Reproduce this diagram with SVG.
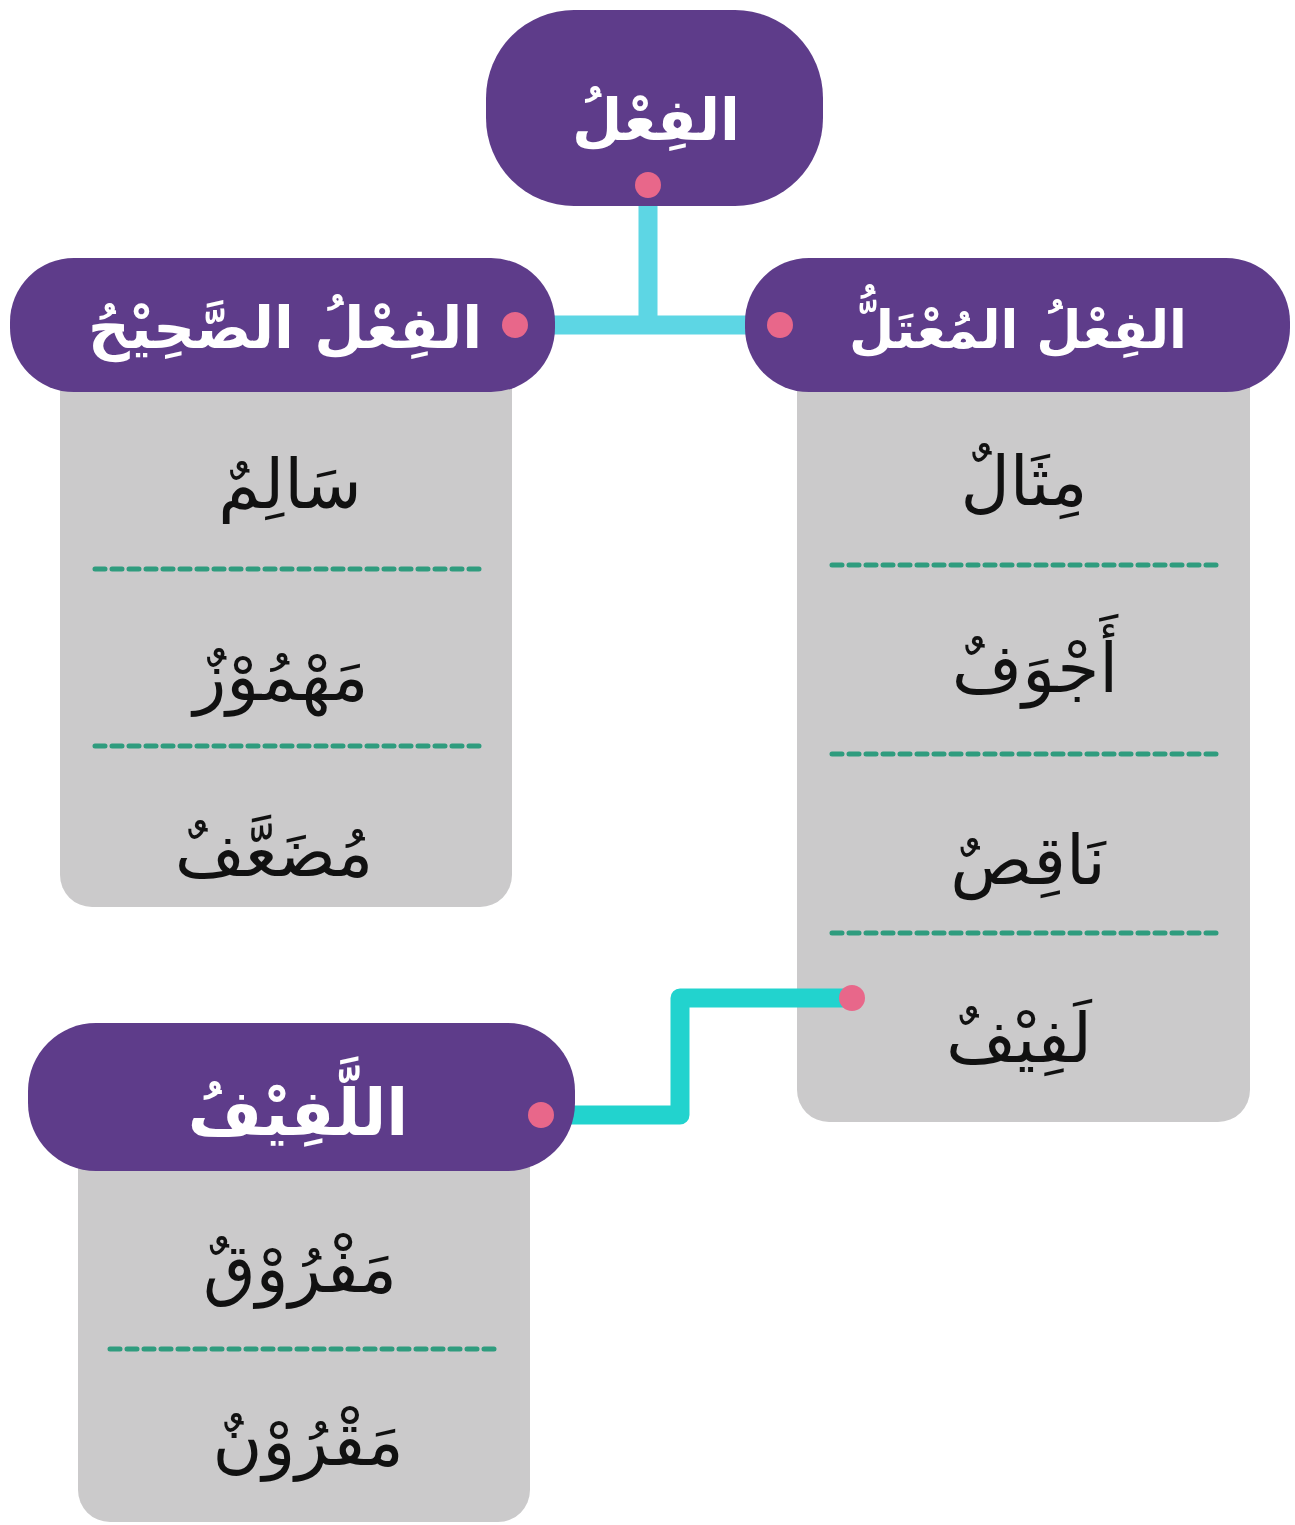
<svg xmlns="http://www.w3.org/2000/svg" width="1295" height="1525" viewBox="0 0 1295 1525">
  <style>
    .head { fill: #5E3C8A; }
    .panel { fill: #CBCACB; }
    .sep { stroke: #2F9C7E; stroke-width: 5; stroke-dasharray: 10 7; stroke-linecap: round; fill: none; }
    .htxt { font-family: "DejaVu Sans", sans-serif; fill: #FFFFFF; text-anchor: middle; font-weight: bold; }
    .itxt { font-family: "DejaVu Sans", sans-serif; fill: #111111; text-anchor: middle; font-size: 68px; }
    .dot { fill: #E8678A; }
    .wire { fill: none; stroke-width: 19; stroke-linejoin: round; }
  </style>
  <rect width="1295" height="1525" fill="#FFFFFF"/>

  <!-- panels sit under their headers -->
  <g id="panel-sahih">
    <rect class="panel" x="60" y="330" width="452" height="577" rx="32"/>
    <line class="sep" x1="95" y1="569" x2="484" y2="569"/>
    <line class="sep" x1="95" y1="746" x2="484" y2="746"/>
    <text class="itxt" x="290" y="508">سَالِمٌ</text>
    <text class="itxt" x="281" y="700">مَهْمُوْزٌ</text>
    <text class="itxt" x="274" y="876">مُضَعَّفٌ</text>
  </g>

  <g id="panel-mutal">
    <rect class="panel" x="797" y="330" width="453" height="792" rx="32"/>
    <line class="sep" x1="832" y1="565" x2="1221" y2="565"/>
    <line class="sep" x1="832" y1="754" x2="1221" y2="754"/>
    <line class="sep" x1="832" y1="933" x2="1221" y2="933"/>
    <text class="itxt" x="1024" y="505">مِثَالٌ</text>
    <text class="itxt" x="1035" y="692">أَجْوَفٌ</text>
    <text class="itxt" x="1028" y="884">نَاقِصٌ</text>
    <text class="itxt" x="1019" y="1062">لَفِيْفٌ</text>
  </g>

  <g id="panel-lafif">
    <rect class="panel" x="78" y="1110" width="452" height="412" rx="32"/>
    <line class="sep" x1="110" y1="1349" x2="499" y2="1349"/>
    <text class="itxt" x="300" y="1292">مَفْرُوْقٌ</text>
    <text class="itxt" x="308" y="1465">مَقْرُوْنٌ</text>
  </g>

  <!-- connectors -->
  <g id="connectors">
    <path class="wire" stroke="#5DD6E4" d="M648 185 V325 M515 325 H780"/>
    <path class="wire" stroke="#22D3CE" d="M852 998 H680 V1115 H541"/>
  </g>

  <!-- headers -->
  <g id="node-fil">
    <rect class="head" x="486" y="10" width="337" height="196" rx="88"/>
    <text class="htxt" x="656" y="140" font-size="58">الفِعْلُ</text>
  </g>
  <g id="node-sahih">
    <rect class="head" x="10" y="258" width="545" height="134" rx="64"/>
    <text class="htxt" x="285" y="348" font-size="58">الفِعْلُ الصَّحِيْحُ</text>
  </g>
  <g id="node-mutal">
    <rect class="head" x="745" y="258" width="545" height="134" rx="64"/>
    <text class="htxt" x="1018" y="348" font-size="52">الفِعْلُ المُعْتَلُّ</text>
  </g>
  <g id="node-lafif">
    <rect class="head" x="28" y="1023" width="547" height="148" rx="68"/>
    <text class="htxt" x="298" y="1135" font-size="64">اللَّفِيْفُ</text>
  </g>

  <!-- connector end points -->
  <g id="ports">
    <circle class="dot" cx="648" cy="185" r="13"/>
    <circle class="dot" cx="515" cy="325" r="13"/>
    <circle class="dot" cx="780" cy="325" r="13"/>
    <circle class="dot" cx="852" cy="998" r="13"/>
    <circle class="dot" cx="541" cy="1115" r="13"/>
  </g>
</svg>
